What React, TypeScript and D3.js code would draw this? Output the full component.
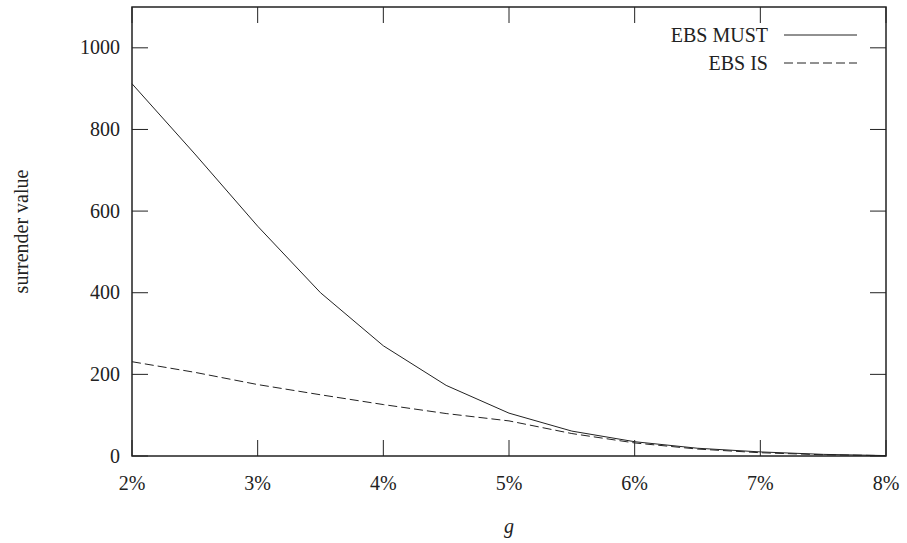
import React, { useEffect, useRef } from 'react';
import * as d3 from 'd3';

const rates = [2, 2.5, 3, 3.5, 4, 4.5, 5, 5.5, 6, 6.5, 7, 7.5, 8];
const ebsMust = [912, 740, 563, 400, 270, 173, 105, 61, 35, 19, 10, 4, 1];
const ebsIs = [231, 205, 175, 150, 126, 104, 86, 55, 32, 17, 8, 3, 1];
const xTicks = [2, 3, 4, 5, 6, 7, 8];
const yTicks = [0, 200, 400, 600, 800, 1000];

const W = 907;
const H = 543;
const margin = { left: 132, right: 21, top: 7, bottom: 87 };

const App = () => {
  const ref = useRef<SVGSVGElement>(null);

  useEffect(() => {
    const svg = d3.select(ref.current);
    svg.selectAll('*').remove();
    const font = 'Times New Roman, Liberation Serif, serif';
    const ink = '#222';
    const fs = '20px';

    const x = d3.scaleLinear().domain([2, 8]).range([margin.left, W - margin.right]);
    const y = d3.scaleLinear().domain([0, 1100]).range([H - margin.bottom, margin.top]);
    const tick = 16;

    const g = svg.append('g');

    // ticks, mirrored on all four sides
    xTicks.forEach(t => {
      g.append('line').attr('x1', x(t)).attr('x2', x(t)).attr('y1', y(0)).attr('y2', y(0) - tick)
        .attr('stroke', ink).attr('stroke-width', 1);
      g.append('line').attr('x1', x(t)).attr('x2', x(t)).attr('y1', y(1100)).attr('y2', y(1100) + tick)
        .attr('stroke', ink).attr('stroke-width', 1);
      g.append('text').attr('x', x(t)).attr('y', y(0) + 34).text(`${t}%`)
        .attr('text-anchor', 'middle').attr('font-family', font).attr('font-size', fs).attr('fill', ink);
    });
    yTicks.forEach(t => {
      g.append('line').attr('x1', x(2)).attr('x2', x(2) + tick).attr('y1', y(t)).attr('y2', y(t))
        .attr('stroke', ink).attr('stroke-width', 1);
      g.append('line').attr('x1', x(8)).attr('x2', x(8) - tick).attr('y1', y(t)).attr('y2', y(t))
        .attr('stroke', ink).attr('stroke-width', 1);
      g.append('text').attr('x', x(2) - 12).attr('y', y(t)).attr('dy', '0.33em').text(t)
        .attr('text-anchor', 'end').attr('font-family', font).attr('font-size', fs).attr('fill', ink);
    });

    // frame
    g.append('rect')
      .attr('x', x(2)).attr('y', y(1100))
      .attr('width', x(8) - x(2)).attr('height', y(0) - y(1100))
      .attr('fill', 'none').attr('stroke', ink).attr('stroke-width', 1.5);

    const line = d3.line<number>().x((d, i) => x(rates[i])).y(d => y(d));

    g.append('path').datum(ebsMust).attr('d', line)
      .attr('fill', 'none').attr('stroke', ink).attr('stroke-width', 1);
    g.append('path').datum(ebsIs).attr('d', line)
      .attr('fill', 'none').attr('stroke', ink).attr('stroke-width', 1)
      .attr('stroke-dasharray', '9,4');

    // legend
    const legend = [
      { name: 'EBS MUST', dash: null, yPos: 35 },
      { name: 'EBS IS', dash: '9,4', yPos: 63 },
    ];
    legend.forEach(l => {
      g.append('text').attr('x', 768).attr('y', l.yPos).attr('dy', '0.33em').text(l.name)
        .attr('text-anchor', 'end').attr('font-family', font).attr('font-size', fs).attr('fill', ink);
      g.append('line').attr('x1', 784).attr('x2', 857).attr('y1', l.yPos).attr('y2', l.yPos)
        .attr('stroke', ink).attr('stroke-width', 1)
        .attr('stroke-dasharray', l.dash);
    });

    // axis titles
    g.append('text').attr('x', (x(2) + x(8)) / 2).attr('y', 533).text('g')
      .attr('text-anchor', 'middle').attr('font-family', font).attr('font-style', 'italic')
      .attr('font-size', fs).attr('fill', ink);
    g.append('text')
      .attr('transform', `translate(28,${(y(0) + y(1100)) / 2}) rotate(-90)`)
      .text('surrender value')
      .attr('text-anchor', 'middle').attr('font-family', font).attr('font-size', fs).attr('fill', ink);
  }, []);

  return (
    <svg ref={ref} width={W} height={H} style={{ position: 'absolute', left: 0, top: 0, background: '#fff' }}></svg>
  );
};

export default App;
